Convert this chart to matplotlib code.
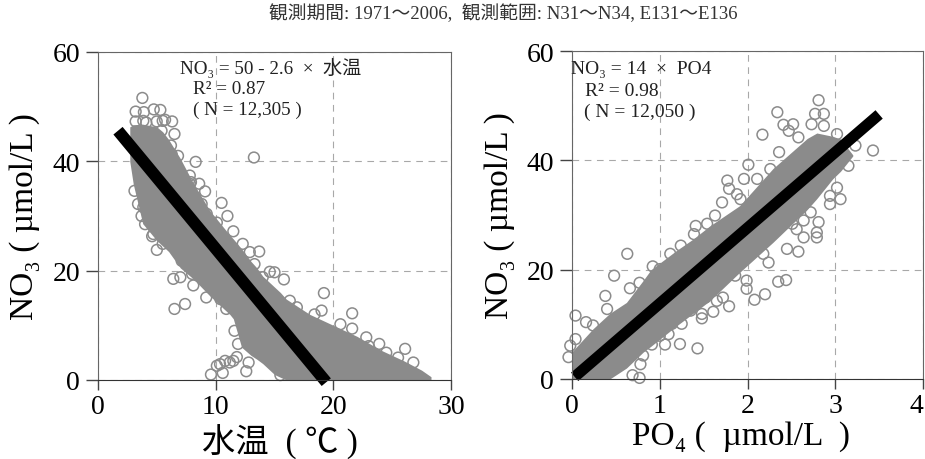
import matplotlib
matplotlib.use('Agg')
import matplotlib.pyplot as plt

plt.rcParams['font.family'] = ['Liberation Serif', 'Noto Sans CJK JP', 'DejaVu Sans']

# left panel: water temperature vs NO3
temp_x = [3.77, 3.2, 3.9, 4.74, 5.3, 3.2, 4.1, 5.5, 6.3, 6.5, 5.4, 6.2, 6.8, 8.3, 7.8, 8.6, 9.1, 7.9,
          10.5, 11, 11.5, 10.1, 13.25, 3.1, 3.4, 3.7, 4, 4.7, 4.7, 4.6, 5, 5.5, 6.4, 7, 8, 8.1, 9.2,
          6.5, 7.4, 10.4, 10.9, 12.3, 13.7, 12.9, 13.3, 14.6, 15, 15.8, 14, 19.2, 19, 18.4, 21.6,
          20.6, 21.6, 22.8, 23.9, 23, 26.1, 25.5, 26.8, 24.5, 16.3, 16.9, 11.6, 12.5, 11.9, 12.9,
          9.6, 10.6, 10.1, 10.8, 11.5, 12.6, 12.8, 15.5,
          4.99, 5.7, 6.26, 8.25, 8.81, 9.24, 3.85, 4.85, 3.85, 7.82, 7.11, 11.2, 11.8, 10.37, 10.8, 13.07]
temp_y = [51.6, 49.1, 49, 49.5, 49.4, 47.3, 47.1, 47.4, 47.3, 45, 45.6, 42.9, 41, 39.9, 37.4, 35.9, 34.5, 36.2,
          32.4, 30, 27.2, 28.8, 40.7, 34.6, 32.2, 30, 28.5, 29, 26.7, 26.3, 23.8, 24.9, 18.5, 18.8, 19.4, 17.3, 15.1,
          13, 13.9, 14.8, 13, 24.9, 23.5, 23.4, 21.2, 19.8, 19.7, 18.4, 18.8, 15.9, 12.7, 12, 12.2,
          10.2, 9.4, 7.8, 6.6, 6.2, 5.7, 4.1, 3.2, 5, 14.5, 13.3, 9, 9.3, 6.6, 8.7,
          1, 1.3, 2.6, 3.5, 3.5, 1.6, 3.2, 0.9,
          47.3, 47.6, 41.3, 33.4, 32.2, 30.4, 31.6, 27.9, 47.4, 35.9, 21.8, 3.2, 4.2, 2.9, 25.8, 9.3]
# dense part of the cloud, outline
temp_band_x = [2.7, 3, 3.8, 5, 5.5, 6, 7, 8.1, 9.5, 11.2, 11.5, 12.2, 13, 13.5, 14, 15, 15.5, 16, 18, 20, 22, 24, 26, 27.5, 28.3]
temp_band_hi = [46.3, 46.7, 46.8, 46.3, 45.4, 44, 40.5, 36, 31, 26.5, 25.8, 24, 21.7, 20.5, 19, 17, 16, 14.8, 12, 10, 8, 5.5, 3.5, 1.8, 0.6]
temp_band_lo = [40, 35.8, 28.6, 25.5, 24.5, 23.5, 20.5, 18.5, 15.4, 12, 11.2, 6, 4.5, 3.8, 3, 1, 0.5, 0, 0, 0, 0, 0, 0, 0, 0]
temp_fit_x = [1.7, 19.4]
temp_fit_y = [45.6, -0.4]

# right panel: PO4 vs NO3
po4_x = [2.81, 2.34, 2.77, 2.87, 2.41, 2.52, 2.73, 2.17, 2.47, 2.87, 3.02, 2.58, 3.43, 3.23, 3.15, 2.36,
         2.01, 2.26, 1.77, 1.96, 2.11, 1.79, 1.71, 1.63, 1.41, 1.54, 3.02, 3.06, 2.94, 2.81, 2.64, 2.51, 2.72,
         0.63, 0.92, 1.12, 1.24, 1.39, 0.48, 0.66, 0.77, 0.38, 0.4, 0.04, 0.16, 0.04, -0.02, -0.04,
         2.79, 2.58, 2.45, 2.64, 2.24, 2.18, 1.99, 1.99, 2.35, 2.44, 2.2, 2.08, 1.86, 1.79, 1.61, 1.48, 1.48,
         1.65, 1.52, 1.25, 1.14, 1.43, 1.23, 1.06, 0.91, 0.81, 0.78, 0.69, 0.77,
         1.88, 1.92, 2.94, 2.79, 2.56, 0.24, 1.0, 1.0, 1.1, 1.35, 1.72]
po4_y = [51, 48.8, 48.5, 48.5, 46.5, 46.6, 46.6, 44.7, 45.4, 46.3, 44.8, 44.2, 41.8, 42.7, 39, 41.5,
         39.2, 38.4, 36.3, 36.6, 36.6, 34.8, 32.3, 29.9, 28, 28.4, 35, 32.9, 33.5, 28.7, 29, 28.4, 30.5,
         22.9, 20.6, 22.9, 24.4, 26.5, 18.9, 16.6, 17.6, 15.2, 12.8, 11.6, 10.4, 7.3, 6.1, 4,
         25.9, 23.3, 23.8, 25.9, 21.3, 22.9, 18, 16.5, 17.8, 18.1, 15.5, 14.5, 18.9, 13.3, 12.3, 11.1, 11.9,
         14.3, 14.9, 10.1, 10.1, 5.6, 6.4, 6.3, 6.3, 4.3, 2.7, 0.7, 0.2,
         33.8, 32.9, 32, 26.8, 27.4, 9.8, 20.1, 7.9, 8.2, 12.5, 14.9]
po4_band_x = [0, 0.24, 0.43, 0.62, 0.81, 0.9, 1.19, 1.38, 1.57, 1.91, 2.29, 2.68, 2.79, 2.97, 3.06, 3.2]
po4_band_hi = [5, 9.2, 12, 14, 18, 20, 23.5, 25.6, 28, 31.7, 38.5, 44, 45, 44.4, 43.9, 41]
po4_band_lo = [0, 0, 0, 2, 4.9, 6, 9.7, 12, 14.3, 19.5, 25, 31, 33, 36.6, 38, 40.8]
po4_fit_x = [0.03, 3.5]
po4_fit_y = [0.4, 48.4]

title = '観測期間: 1971～2006,  観測範囲: N31～N34, E131～E136'
temp_note = ['NO₃ = 50 - 2.6  ×  水温', 'R² = 0.87', '( N = 12,305 )']
po4_note = ['NO₃ = 14  ×  PO4', 'R² = 0.98', '( N = 12,050 )']

GRAY = '#8b8b8b'
W, H = 925, 460


def make_axes(left, right, top, bottom):
  return fig.add_axes([left / W, 1 - bottom / H, (right - left) / W, (bottom - top) / H])


def draw_panel(ax, x, y, band_x, band_lo, band_hi, fit_x, fit_y, xmax, xticks, xlabel, lw):
  ax.fill_between(band_x, band_lo, band_hi, color=GRAY, lw=0, zorder=3)
  ax.scatter(x, y, s=60, facecolors='none', edgecolors=GRAY, linewidths=1.1, zorder=4, clip_on=False)
  ax.plot(fit_x, fit_y, color='black', lw=lw, solid_capstyle='butt', zorder=5, clip_on=False)
  ax.set_xlim(0, xmax)
  ax.set_ylim(0, 60)
  ax.set_xticks(xticks)
  ax.set_yticks([0, 20, 40, 60])
  ax.grid(True, color='#a8a8a8', ls=(0, (6, 5)), lw=0.8, zorder=1)
  ax.tick_params(axis='x', length=7, width=1, color='#444444', labelsize=20, pad=3)
  ax.tick_params(axis='y', length=9, width=1, color='#444444', labelsize=20, pad=4)
  ax.set_xlabel(xlabel, fontsize=24)
  ax.set_ylabel('NO₃ ( µmol/L )', fontsize=24)
  for side in ax.spines:
    ax.spines[side].set_color('#666666')
    ax.spines[side].set_zorder(6)
  ax.spines['bottom'].set_color('#333333')


fig = plt.figure(figsize=(W / 100, H / 100), dpi=100, facecolor='white')
fig.text(503 / W, 1 - 14 / H, title, ha='center', va='center', fontsize=13.5, color='#333333')

ax1 = make_axes(98, 451, 53, 381)
draw_panel(ax1, temp_x, temp_y, temp_band_x, temp_band_lo, temp_band_hi, temp_fit_x, temp_fit_y,
           30, [0, 10, 20, 30], '水温  ( ℃ )', 8.6)
ax1.yaxis.set_label_coords(-0.164, 0.5)
ax1.xaxis.set_label_coords(0.516, -0.135)

ax2 = make_axes(572, 923, 52, 380)
draw_panel(ax2, po4_x, po4_y, po4_band_x, po4_band_lo, po4_band_hi, po4_fit_x, po4_fit_y,
           4, [0, 1, 2, 3, 4], 'PO₄ (  µmol/L  )', 8.0)
ax2.yaxis.set_label_coords(-0.162, 0.5)
ax2.xaxis.set_label_coords(0.482, -0.125)
# the last tick label would run off the right edge
ax2.get_xticklabels()[-1].set_ha('right')

for (px, py), s in zip([(180, 68), (193, 89), (193, 110)], temp_note):
  fig.text(px / W, 1 - py / H, s, ha='left', va='center', fontsize=13.8, color='#222222')
for (px, py), s in zip([(571, 70), (585, 92), (584, 112)], po4_note):
  fig.text(px / W, 1 - py / H, s, ha='left', va='center', fontsize=14, color='#222222')

fig.savefig('out.png', dpi=100)
